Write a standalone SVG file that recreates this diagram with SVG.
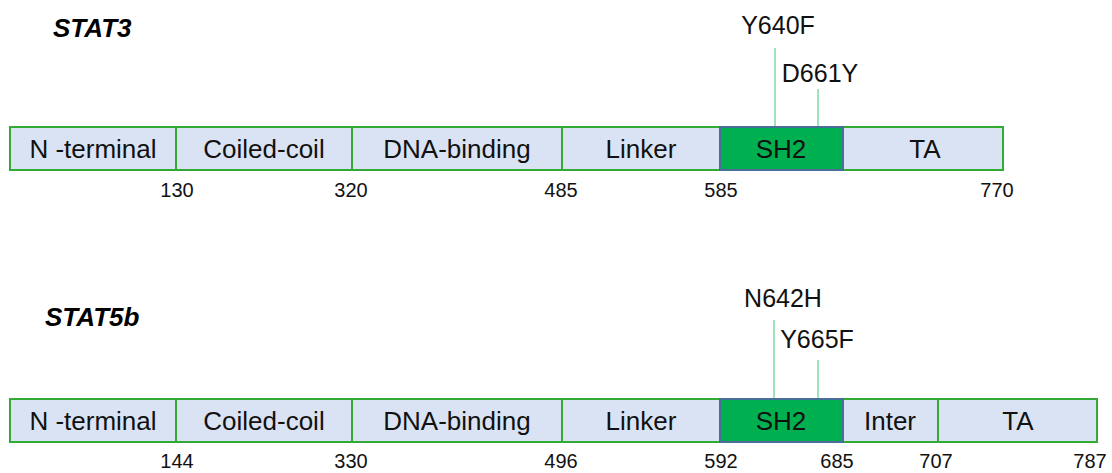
<svg xmlns="http://www.w3.org/2000/svg" width="1112" height="473" viewBox="0 0 1112 473">
  <style>
    .dom { fill: #DAE3F3; stroke: #33AA33; stroke-width: 2; }
    .sh2 { fill: #00B050; stroke: #4A6E9A; stroke-width: 2; }
    .lbl { font-family: "Liberation Sans", Arial, sans-serif; font-size: 26px; fill: #111; text-anchor: middle; }
    .num { font-family: "Liberation Sans", Arial, sans-serif; font-size: 20px; fill: #111; text-anchor: middle; }
    .mut { font-family: "Liberation Sans", Arial, sans-serif; font-size: 25px; fill: #111; text-anchor: middle; }
    .title { font-family: "Liberation Sans", Arial, sans-serif; font-size: 26px; font-weight: bold; font-style: italic; fill: #000; }
    .tick { stroke: #7FD8A8; stroke-width: 1.5; }
  </style>
  <rect width="1112" height="473" fill="#ffffff"/>

  <!-- STAT3 -->
  <g id="stat3-title"><text class="title" x="53" y="37">STAT3</text></g>
  <g id="stat3-nterm"><rect class="dom" x="10" y="127" width="166" height="43"/><text class="lbl" x="93" y="158">N -terminal</text></g>
  <g id="stat3-coiled"><rect class="dom" x="176" y="127" width="176" height="43"/><text class="lbl" x="264" y="158">Coiled-coil</text></g>
  <g id="stat3-dna"><rect class="dom" x="352" y="127" width="210" height="43"/><text class="lbl" x="457" y="158">DNA-binding</text></g>
  <g id="stat3-linker"><rect class="dom" x="562" y="127" width="158" height="43"/><text class="lbl" x="641" y="158">Linker</text></g>
  <g id="stat3-ta"><rect class="dom" x="843" y="127" width="160" height="43"/><text class="lbl" x="925" y="158">TA</text></g>
  <g id="stat3-sh2"><rect class="sh2" x="720" y="127" width="123" height="43"/><text class="lbl" x="781" y="158">SH2</text></g>
  <g id="stat3-positions">
    <text class="num" x="177" y="197">130</text>
    <text class="num" x="351" y="197">320</text>
    <text class="num" x="561" y="197">485</text>
    <text class="num" x="721" y="197">585</text>
    <text class="num" x="997" y="197">770</text>
  </g>
  <g id="stat3-mutations">
    <text class="mut" x="778" y="34">Y640F</text>
    <text class="mut" x="820" y="82">D661Y</text>
  </g>

  <!-- STAT5b -->
  <g id="stat5b-title"><text class="title" x="45" y="326">STAT5b</text></g>
  <g id="stat5b-nterm"><rect class="dom" x="10" y="399" width="166" height="43"/><text class="lbl" x="93" y="430">N -terminal</text></g>
  <g id="stat5b-coiled"><rect class="dom" x="176" y="399" width="176" height="43"/><text class="lbl" x="264" y="430">Coiled-coil</text></g>
  <g id="stat5b-dna"><rect class="dom" x="352" y="399" width="210" height="43"/><text class="lbl" x="457" y="430">DNA-binding</text></g>
  <g id="stat5b-linker"><rect class="dom" x="562" y="399" width="158" height="43"/><text class="lbl" x="641" y="430">Linker</text></g>
  <g id="stat5b-inter"><rect class="dom" x="843" y="399" width="95" height="43"/><text class="lbl" x="890" y="430">Inter</text></g>
  <g id="stat5b-ta"><rect class="dom" x="938" y="399" width="159" height="43"/><text class="lbl" x="1018" y="430">TA</text></g>
  <g id="stat5b-sh2"><rect class="sh2" x="720" y="399" width="123" height="43"/><text class="lbl" x="781" y="430">SH2</text></g>
  <g id="stat5b-positions">
    <text class="num" x="177" y="468">144</text>
    <text class="num" x="351" y="468">330</text>
    <text class="num" x="561" y="468">496</text>
    <text class="num" x="721" y="468">592</text>
    <text class="num" x="837" y="468">685</text>
    <text class="num" x="936" y="468">707</text>
    <text class="num" x="1090" y="468">787</text>
  </g>
  <g id="stat5b-mutations">
    <text class="mut" x="783" y="307">N642H</text>
    <text class="mut" x="817" y="348">Y665F</text>
  </g>

  <!-- mutation pointer lines -->
  <g id="connectors">
    <line class="tick" x1="775" y1="48" x2="775" y2="126"/>
    <line class="tick" x1="818" y1="89" x2="818" y2="126"/>
    <line class="tick" x1="774" y1="320" x2="774" y2="398"/>
    <line class="tick" x1="818" y1="360" x2="818" y2="398"/>
  </g>
</svg>
